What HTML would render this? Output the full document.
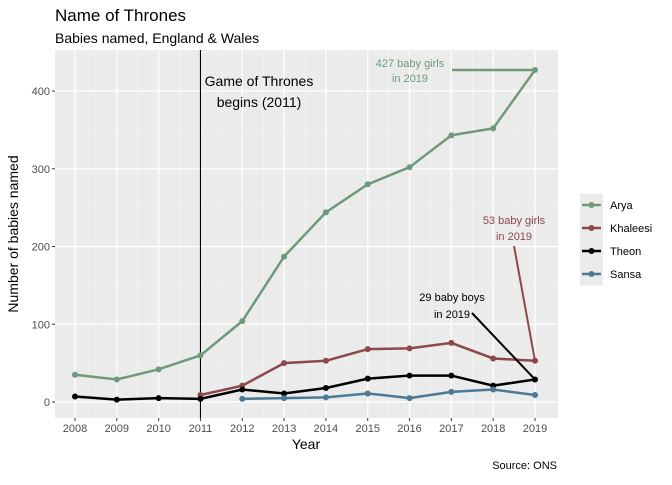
<!DOCTYPE html>
<html><head><meta charset="utf-8"><style>
body{margin:0;background:#fff;font-family:"Liberation Sans",sans-serif}
</style></head><body>
<svg id="c" width="672" height="480" xmlns="http://www.w3.org/2000/svg" font-family="Liberation Sans, sans-serif"></svg>
<script>
const years=[2008,2009,2010,2011,2012,2013,2014,2015,2016,2017,2018,2019];
const arya=[35,29,42,60,104,187,244,280,302,343,352,427];
const khaleesi=[null,null,null,9,21,50,53,68,69,76,56,53];
const theon=[7,3,5,4,16,11,18,30,34,34,21,29];
const sansa=[null,null,null,null,4,5,6,11,5,13,16,9];
const yTicks=[0,100,200,300,400];
const seriesNames=["Arya","Khaleesi","Theon","Sansa"];
const colors=["#6e9a7a","#8b4a4a","#000000","#4a7a94"];
const svg=document.getElementById('c');
const NS="http://www.w3.org/2000/svg";
const L=55,R=558,T=50,B=418;
const x=v=>75+(v-2008)*(535-75)/11;
const y=v=>402-v*0.7775;
function el(tag,attrs,parent){const e=document.createElementNS(NS,tag);for(const k in attrs)e.setAttribute(k,attrs[k]);(parent||svg).appendChild(e);return e;}
function txt(s,attrs){const e=el('text',attrs);e.textContent=s;return e;}
let bg=el('rect',{x:L,y:T,width:R-L,height:B-T,fill:'#ebebeb'});


for(let i=0;i<years.length-1;i++){el('line',{x1:x(years[i]+0.5),x2:x(years[i]+0.5),y1:T,y2:B,stroke:'#f6f6f6','stroke-width':0.6});}
for(let i=0;i<yTicks.length;i++){const v=yTicks[i]+50;if(y(v)>T)el('line',{x1:L,x2:R,y1:y(v),y2:y(v),stroke:'#f6f6f6','stroke-width':0.6});}
for(const v of yTicks){el('line',{x1:L,x2:R,y1:y(v),y2:y(v),stroke:'#fff','stroke-width':1.2});
const t=txt(String(v),{x:L-5,y:y(v)+4,'text-anchor':'end','font-size':11,fill:'#4d4d4d'});

el('line',{x1:L-3,x2:L,y1:y(v),y2:y(v),stroke:'#333'});}
for(const yr of years){el('line',{x1:x(yr),x2:x(yr),y1:T,y2:B,stroke:'#fff','stroke-width':1.2});
const t=txt(String(yr),{x:x(yr),y:B+14,'text-anchor':'middle','font-size':11,fill:'#4d4d4d'});

el('line',{x1:x(yr),x2:x(yr),y1:B,y2:B+3,stroke:'#333'});}
let vl=el('line',{x1:x(2011),x2:x(2011),y1:T,y2:B,stroke:'#000','stroke-width':1.1});

txt('Game of Thrones',{x:259,y:86,'text-anchor':'middle','font-size':14,fill:'#000'});
txt('begins (2011)',{x:259,y:107,'text-anchor':'middle','font-size':14,fill:'#000'});
const data=[arya,khaleesi,theon,sansa];
data.forEach((d,si)=>{const g=el('g',{});

let pts=[];years.forEach((yr,i)=>{if(d[i]!=null)pts.push(x(yr)+','+y(d[i]));});
el('polyline',{points:pts.join(' '),fill:'none',stroke:colors[si],'stroke-width':2.5},g);
years.forEach((yr,i)=>{if(d[i]!=null){const c=el('circle',{cx:x(yr),cy:y(d[i]),r:3,fill:colors[si]},g);
}});});
const last=years.length-1;
el('line',{x1:452,y1:y(arya[last]),x2:x(2019),y2:y(arya[last]),stroke:colors[0],'stroke-width':2.5});
txt('427 baby girls',{x:410,y:67,'text-anchor':'middle','font-size':11,fill:colors[0]});
txt('in 2019',{x:410,y:82,'text-anchor':'middle','font-size':11,fill:colors[0]});
el('line',{x1:514,y1:246,x2:x(2019),y2:y(khaleesi[last]),stroke:colors[1],'stroke-width':2});
txt('53 baby girls',{x:514,y:224,'text-anchor':'middle','font-size':11,fill:colors[1]});
txt('in 2019',{x:514,y:240,'text-anchor':'middle','font-size':11,fill:colors[1]});
el('line',{x1:472,y1:313,x2:x(2019),y2:y(theon[last]),stroke:'#000','stroke-width':2});
txt('29 baby boys',{x:452,y:301,'text-anchor':'middle','font-size':11,fill:'#000'});
txt('in 2019',{x:452,y:318,'text-anchor':'middle','font-size':11,fill:'#000'});
let t1=txt('Name of Thrones',{x:55,y:21,'font-size':17,fill:'#000'});
let t2=txt('Babies named, England & Wales',{x:55,y:43,'font-size':14,fill:'#000'});
let xl=txt('Year',{x:306,y:449,'text-anchor':'middle','font-size':14,fill:'#000'});
let yl=txt('Number of babies named',{x:0,y:0,'text-anchor':'middle','font-size':14,fill:'#000',transform:'translate(18,234) rotate(-90)'});
let src=txt('Source: ONS',{x:557,y:469,'text-anchor':'end','font-size':11,fill:'#000'});
const lg=el('g',{});
seriesNames.forEach((n,i)=>{const cy=205+i*23;
const e=el('g',{},lg);
el('rect',{x:580,y:cy-11.5,width:23,height:23,fill:'#ebebeb'},e);
el('line',{x1:582,x2:601,y1:cy,y2:cy,stroke:colors[i],'stroke-width':2.5},e);
el('circle',{cx:591.5,cy:cy,r:3,fill:colors[i]},e);
const t=document.createElementNS(NS,'text');t.setAttribute('x',610);t.setAttribute('y',cy+4);t.setAttribute('font-size',11);t.textContent=n;e.appendChild(t);});
</script>
</body></html>
